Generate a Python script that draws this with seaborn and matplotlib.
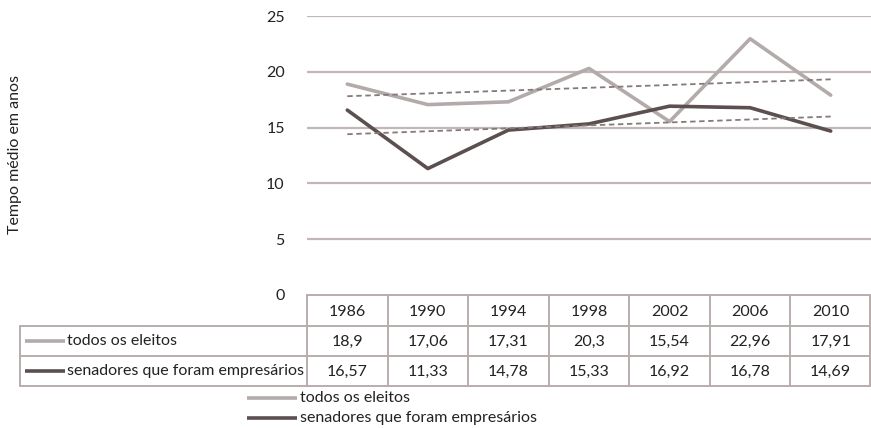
import numpy as np
import pandas as pd
import matplotlib
matplotlib.use("Agg")
import matplotlib.pyplot as plt
import seaborn as sns

# Election years and average time (years) for each group
years = ["1986", "1990", "1994", "1998", "2002", "2006", "2010"]
todos_eleitos = [18.9, 17.06, 17.31, 20.3, 15.54, 22.96, 17.91]
senadores_empresarios = [16.57, 11.33, 14.78, 15.33, 16.92, 16.78, 14.69]
series_names = ["todos os eleitos", "senadores que foram empresários"]
y_ticks = [0, 5, 10, 15, 20, 25]
y_label = "Tempo médio em anos"

colors = {series_names[0]: "#b3aaaa", series_names[1]: "#5b4f50"}
grid_color = "#c2b7b7"
border_color = "#b9adad"
trend_color = "#85797a"
text_color = "#222222"

sns.set_theme(style="white")
plt.rcParams["font.family"] = ["Lato", "DejaVu Sans"]

W, H = 871, 428
fig = plt.figure(figsize=(W / 100, H / 100), dpi=100)

# plot area in pixel coordinates
px_left, px_right, px_top, px_bottom = 307, 871, 16, 295
ax = fig.add_axes([px_left / W, 1 - px_bottom / H,
                   (px_right - px_left) / W, (px_bottom - px_top) / H])

df = pd.DataFrame({
    "pos": list(range(len(years))) * 2,
    "valor": todos_eleitos + senadores_empresarios,
    "serie": [series_names[0]] * len(years) + [series_names[1]] * len(years),
})

for y in y_ticks[1:]:
    ax.axhline(y, color=grid_color, lw=1.6, zorder=0)

sns.lineplot(data=df, x="pos", y="valor", hue="serie", palette=colors,
             linewidth=2.6, legend=False, ax=ax, zorder=3)

# linear trend lines for each series
xs = np.arange(len(years))
for vals in (todos_eleitos, senadores_empresarios):
    k, b = np.polyfit(xs, vals, 1)
    ax.plot([xs[0], xs[-1]], [b, k * xs[-1] + b], ls=(0, (3, 2)),
            color=trend_color, lw=1.3, zorder=4)

ax.set_xlim(-0.5, len(years) - 0.5)
ax.set_ylim(0, 25)
ax.set_yticks(y_ticks)
ax.set_yticklabels([str(t) for t in y_ticks], fontsize=11.5, color=text_color)
ax.tick_params(axis="y", length=0, pad=16)
ax.set_xticks([])
ax.set_xlabel("")
ax.set_ylabel("")
for s in ax.spines.values():
    s.set_visible(False)

fig.text(15 / W, 1 - 155 / H, y_label, rotation=90, ha="center", va="center",
         fontsize=11.5, color=text_color)

# overlay in pixel coordinates for the data table and legend
ov = fig.add_axes([0, 0, 1, 1], zorder=5)
ov.set_xlim(0, W)
ov.set_ylim(H, 0)
ov.axis("off")
ov.patch.set_alpha(0)

col_w = (px_right - px_left) / len(years)
row_y = [295, 326, 356, 386]
table_left = 20
blw = 1.4

# horizontal borders
ov.plot([px_left, px_right - 1], [row_y[0]] * 2, color=border_color, lw=blw)
for yy in row_y[1:]:
    ov.plot([table_left, px_right - 1], [yy] * 2, color=border_color, lw=blw)
# vertical borders
ov.plot([table_left] * 2, [row_y[1], row_y[3]], color=border_color, lw=blw)
for i in range(len(years) + 1):
    x = min(px_left + i * col_w, px_right - 1)
    ov.plot([x, x], [row_y[0], row_y[3]], color=border_color, lw=blw)

fmt = lambda v: str(v).replace(".", ",")
rows = [years, [fmt(v) for v in todos_eleitos], [fmt(v) for v in senadores_empresarios]]
for r, cells in enumerate(rows):
    yc = (row_y[r] + row_y[r + 1]) / 2 + 1
    for i, t in enumerate(cells):
        ov.text(px_left + (i + 0.5) * col_w, yc, t, ha="center", va="center",
                fontsize=11.5, color=text_color)

# row labels with line keys
for r, name in enumerate(series_names):
    yc = (row_y[r + 1] + row_y[r + 2]) / 2
    ov.plot([25, 65], [yc, yc], color=colors[name], lw=2.6, solid_capstyle="butt")
    ov.text(67, yc, name, ha="left", va="center", fontsize=11.5, color=text_color)

# legend below the table
for name, yc in zip(series_names, [398, 418]):
    ov.plot([247, 297], [yc, yc], color=colors[name], lw=2.6, solid_capstyle="butt")
    ov.text(300, yc, name, ha="left", va="center", fontsize=11.5, color=text_color)

fig.savefig("out.png", dpi=100, facecolor="white")
